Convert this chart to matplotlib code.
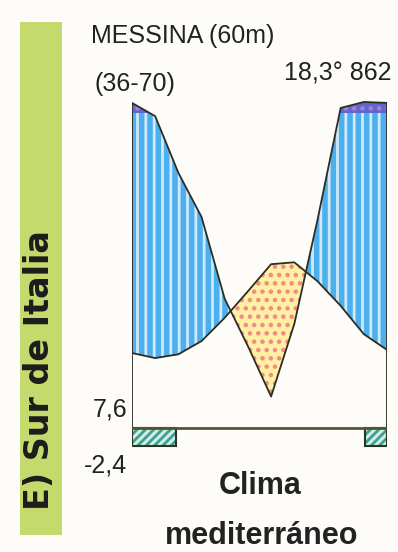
import numpy as np
import matplotlib
matplotlib.use("Agg")
import matplotlib.pyplot as plt
from matplotlib.patches import Rectangle

# ---------------- data ----------------
months = ["E", "F", "M", "A", "M", "J", "J", "A", "S", "O", "N", "D"]
temp_c = [11.9, 11.1, 11.7, 13.8, 17.5, 21.7, 26.0, 26.3, 23.3, 19.4, 14.9, 12.4]
precip_mm = [132, 99, 81, 67, 41, 26, 10, 33, 66, 116, 135, 132]
frost_spans = [(0.0, 1.9), (10.05, 11.0)]   # months with probable frost
station = "MESSINA (60m)"
period = "(36-70)"
annual = "18,3° 862"
t_min_mean = "7,6"
t_min_abs = "-2,4"
region = "E) Sur de Italia"
title_lines = ["Clima", "mediterráneo"]

# ---------------- style ----------------
W, H = 398, 552
BG = "#fdfcf8"
NARROW = ["Liberation Sans Narrow", "Liberation Sans", "DejaVu Sans"]
BOLDWIDE = ["DejaVu Sans", "Liberation Sans"]
plt.rcParams["hatch.linewidth"] = 2.0

fig = plt.figure(figsize=(W / 100, H / 100), dpi=100, facecolor=BG)

def fx(px):
    return px / W

def fy(py):
    return 1 - py / H

# plot area: x 132..387 px, zero line at y=428 px, 6.3 px per degC
K = 6.3
y_top_px, y_bot_px, y0_px = 90, 460, 428
ax = fig.add_axes([fx(132), fy(y_bot_px), (387 - 132) / W, (y_bot_px - y_top_px) / H])
ax.set_xlim(0, len(months) - 1)
ax.set_ylim(-(y_bot_px - y0_px) / K, (y0_px - y_top_px) / K)
ax.axis("off")
ax.patch.set_alpha(0)

def pscale(p):
    p = np.asarray(p, float)
    return np.where(p <= 100, p / 2.0, 50 + (p - 100) / 20.0)

x = np.arange(len(months))
T = np.array(temp_c, float)
P = pscale(precip_mm)

xf = np.linspace(0, len(months) - 1, 2000)
Tf = np.interp(xf, x, T)
Pf = np.interp(xf, x, P)

# humid period (blue, vertical stripes)
ax.fill_between(xf, Tf, np.minimum(Pf, 50), where=Pf >= Tf, interpolate=True,
                facecolor="#4dafee", edgecolor="#cfeafb", hatch="||", linewidth=0, zorder=2)
# very wet (>100 mm) top band
ax.fill_between(xf, 50, Pf, where=Pf >= 50, interpolate=True,
                facecolor="#5f68d0", edgecolor="#b27ad0", hatch="..", linewidth=0, zorder=2)
# arid period (yellow with red dots)
ax.fill_between(xf, Pf, Tf, where=Tf >= Pf, interpolate=True,
                facecolor="#fff0a4", edgecolor="#f08a86", hatch="..", linewidth=0, zorder=2)

LC = "#2d2d22"
ax.plot(x, T, color=LC, lw=1.3, zorder=4)
ax.plot(x, P, color=LC, lw=1.3, zorder=4)
ax.vlines([x[0], x[-1]], 0, [P[0], P[-1]], color=LC, lw=1.3, zorder=4)
ax.axhline(0, color="#55552e", lw=2.0, zorder=5)

# frost bars
bar_h = (446 - y0_px) / K
for a, b in frost_spans:
    ax.add_patch(Rectangle((a, -bar_h), b - a, bar_h, facecolor="#cfeee9",
                           edgecolor="#3f9e8c", hatch="////", linewidth=0, zorder=3))
    ax.add_patch(Rectangle((a, -bar_h), b - a, bar_h, facecolor="none",
                           edgecolor="#2a3526", linewidth=1.5, zorder=4))

# green side band
fig.patches.append(Rectangle((fx(20), fy(535)), 42 / W, 513 / H, transform=fig.transFigure,
                             facecolor="#c5da6c", edgecolor="none", zorder=0))
fig.text(fx(40), fy(370), region, rotation=90, ha="center", va="center",
         fontsize=24, fontweight="bold", family=BOLDWIDE, color="#1c1c1c")

TC = "#222222"
fs = 18
fig.text(fx(91), fy(43), station, ha="left", va="baseline", fontsize=fs, family=NARROW, color=TC)
fig.text(fx(94), fy(91), period, ha="left", va="baseline", fontsize=fs, family=NARROW, color=TC)
fig.text(fx(392), fy(80), annual, ha="right", va="baseline", fontsize=fs, family=NARROW, color=TC)
fig.text(fx(127), fy(417), t_min_mean, ha="right", va="baseline", fontsize=fs, family=NARROW, color=TC)
fig.text(fx(127), fy(472), t_min_abs, ha="right", va="baseline", fontsize=fs, family=NARROW, color=TC)
fig.text(fx(260), fy(494), title_lines[0], ha="center", va="baseline", fontsize=22,
         fontweight="bold", family=NARROW, color=TC)
fig.text(fx(262), fy(544), title_lines[1], ha="center", va="baseline", fontsize=22,
         fontweight="bold", family=NARROW, color=TC)

fig.savefig("out.png", dpi=100, facecolor=BG)
